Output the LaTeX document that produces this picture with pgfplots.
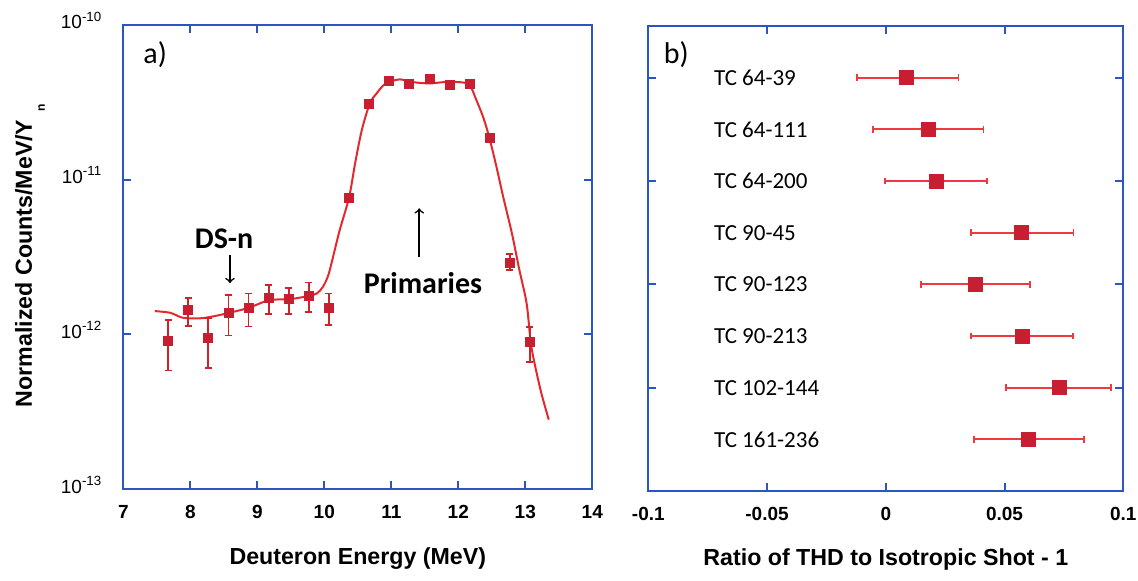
\documentclass[border=0pt]{standalone}
\usepackage{fontspec}
\setmainfont{Liberation Sans}
\newfontfamily\calib{Carlito}
\usepackage{pgfplots}
\pgfplotsset{compat=1.18}
\definecolor{frame}{HTML}{2B55BF}
\definecolor{mk}{HTML}{C81E32}
\definecolor{ln}{HTML}{E3282E}
\definecolor{eb}{HTML}{EE3A3E}

\begin{document}
\begin{tikzpicture}
\useasboundingbox (-61.65pt,-45.35pt) rectangle ++(569pt,290pt);
\pgfplotsset{
  panel/.style={scale only axis, clip=false,
    axis line style={frame, line width=1pt},
    tick style={frame, line width=1pt},
    tick align=inside, major tick length=4pt, minor tick length=0pt,
    xtick pos=both, ytick pos=both,
    tick label style={font=\bfseries\fontsize{9.5}{11}\selectfont},
    xticklabel style={yshift=-4.5pt},
    label style={font=\bfseries\fontsize{11.6}{13}\selectfont},
  }
}
% (a) deuteron spectrum
\begin{axis}[panel, name=left, at={(0,0)}, anchor=south west,
  width=234.5pt, height=232.3pt,
  xmin=7, xmax=14, ymode=log, ymin=1e-13, ymax=1e-10,
  xtick={7,...,14}, xticklabels={7,8,9,10,11,12,13,14},
  ytick={1e-13,1e-12,1e-11,1e-10},
  yticklabels={10\textsuperscript{-13},10\textsuperscript{-12},10\textsuperscript{-11},10\textsuperscript{-10}},
  yticklabel style={font=\fontsize{9.5}{11}\selectfont, anchor=base east, xshift=-7pt, yshift=-2pt},
  xlabel={Deuteron Energy (MeV)},
  ylabel={Normalized Counts/MeV/Y\hspace{4pt}\raisebox{-6.5pt}{\fontsize{6}{7}\selectfont n}},
  xlabel style={at={(axis description cs:0.5,-0.150)}, anchor=center},
  ylabel style={at={(axis description cs:-0.1947,0.503)}, anchor=base},
]
\addplot[ln, line width=1pt, smooth, tension=0.5] coordinates {
  (7.47,1.416e-12) (7.70,1.380e-12) (7.87,1.288e-12) (8.02,1.271e-12) (8.19,1.276e-12)
  (8.39,1.321e-12) (8.58,1.380e-12) (8.87,1.486e-12) (9.18,1.667e-12) (9.47,1.687e-12)
  (9.76,1.770e-12) (9.89,1.841e-12) (9.98,2.032e-12) (10.06,2.415e-12) (10.13,3.16e-12)
  (10.23,4.72e-12) (10.37,7.67e-12) (10.46,1.274e-11) (10.56,2.089e-11) (10.68,3.105e-11)
  (10.78,3.597e-11) (10.88,4.055e-11) (10.98,4.276e-11) (11.13,4.436e-11) (11.33,4.256e-11)
  (11.57,4.178e-11) (11.78,4.256e-11) (12.03,4.256e-11) (12.17,4.074e-11) (12.27,3.258e-11)
  (12.37,2.541e-11) (12.46,1.888e-11) (12.57,1.208e-11) (12.67,7.74e-12) (12.80,4.50e-12)
  (12.91,2.63e-12) (13.02,1.585e-12) (13.08,8.97e-13) (13.14,6.46e-13) (13.24,4.17e-13)
  (13.35,2.82e-13)};
\addplot[only marks, mark=square*, mark size=2.25pt, mark options={fill=mk, draw=mk},
  error bars/.cd, y dir=both, y explicit,
  error bar style={ln!90!black, line width=0.9pt},
  error mark options={ln!90!black, line width=0.9pt, mark size=1.75pt, rotate=90}]
  coordinates {
  (7.67,9.10e-13) += (0,3.23e-13) -= (0,3.24e-13)
  (7.97,1.439e-12) += (0,2.79e-13) -= (0,3.07e-13)
  (8.27,9.53e-13) += (0,3.29e-13) -= (0,3.46e-13)
  (8.57,1.380e-12) += (0,4.15e-13) -= (0,3.94e-13)
  (8.87,1.486e-12) += (0,3.55e-13) -= (0,3.59e-13)
  (9.17,1.710e-12) += (0,3.84e-13) -= (0,3.55e-13)
  (9.47,1.687e-12) += (0,3.08e-13) -= (0,3.32e-13)
  (9.77,1.778e-12) += (0,3.90e-13) -= (0,3.75e-13)
  (10.07,1.486e-12) += (0,3.55e-13) -= (0,3.35e-13)
  (12.77,2.88e-12) += (0,4.2e-13) -= (0,2.7e-13)
  (13.07,8.97e-13) += (0,2.15e-13) -= (0,2.30e-13)};
\addplot[only marks, mark=square*, mark size=2.25pt, mark options={fill=mk, draw=mk}]
  coordinates {
  (10.37,7.67e-12) (10.67,3.10e-11) (10.97,4.33e-11) (11.27,4.14e-11) (11.57,4.44e-11)
  (11.87,4.06e-11) (12.17,4.15e-11) (12.47,1.862e-11)};
\node[font=\calib\fontsize{15}{17}\selectfont] at (rel axis cs:0.068,0.935) {a)};
\node[font=\calib\bfseries\fontsize{15}{17}\selectfont] at (rel axis cs:0.2147,0.5387) {DS-n};
\draw[->, line width=0.8pt] (rel axis cs:0.2275,0.5043) -- (rel axis cs:0.2275,0.444);
\node[font=\calib\bfseries\fontsize{15}{17}\selectfont] at (rel axis cs:0.639,0.444) {Primaries};
\draw[->, line width=0.8pt] (rel axis cs:0.631,0.5006) -- (rel axis cs:0.631,0.6048);
\end{axis}
% (b) THD ratio
\begin{axis}[panel, name=right, at={(262.5pt,-0.85pt)}, anchor=south west,
  width=237.5pt, height=232.5pt,
  xmin=-0.1, xmax=0.1, ymin=0, ymax=9,
  xtick={-0.1,-0.05,0,0.05,0.1}, xticklabels={-0.1,-0.05,0,0.05,0.1},
  ytick={2,4,6,8}, yticklabels={},
  xlabel={Ratio of THD to Isotropic Shot - 1},
  xlabel style={at={(axis description cs:0.5,-0.148)}, anchor=center},
]
\addplot[only marks, mark=square*, mark size=3.5pt, mark options={fill=mk, draw=mk},
  error bars/.cd, x dir=both, x explicit,
  error bar style={eb, line width=0.9pt},
  error mark options={eb, line width=0.9pt, mark size=1.6pt, rotate=90}]
  coordinates {
  (0.0087,8) += (0.0219,0) -= (0.0208,0)
  (0.0180,7) += (0.0231,0) -= (0.0233,0)
  (0.0212,6) += (0.0215,0) -= (0.0215,0)
  (0.0570,5) += (0.0220,0) -= (0.0211,0)
  (0.0379,4) += (0.0229,0) -= (0.0230,0)
  (0.0574,3) += (0.0215,0) -= (0.0217,0)
  (0.0731,2) += (0.0218,0) -= (0.0224,0)
  (0.0601,1) += (0.0233,0) -= (0.0231,0)};
\node[font=\calib\fontsize{15}{17}\selectfont] at (rel axis cs:0.059,0.938) {b)};
\begin{scope}[every node/.style={font=\calib\fontsize{11.5}{13}\selectfont, anchor=west, inner xsep=0pt}]
\node at (axis cs:-0.0725,8) {TC 64-39};
\node at (axis cs:-0.0725,7) {TC 64-111};
\node at (axis cs:-0.0725,6) {TC 64-200};
\node at (axis cs:-0.0725,5) {TC 90-45};
\node at (axis cs:-0.0725,4) {TC 90-123};
\node at (axis cs:-0.0725,3) {TC 90-213};
\node at (axis cs:-0.0725,2) {TC 102-144};
\node at (axis cs:-0.0725,1) {TC 161-236};
\end{scope}
\end{axis}
\end{tikzpicture}
\end{document}
